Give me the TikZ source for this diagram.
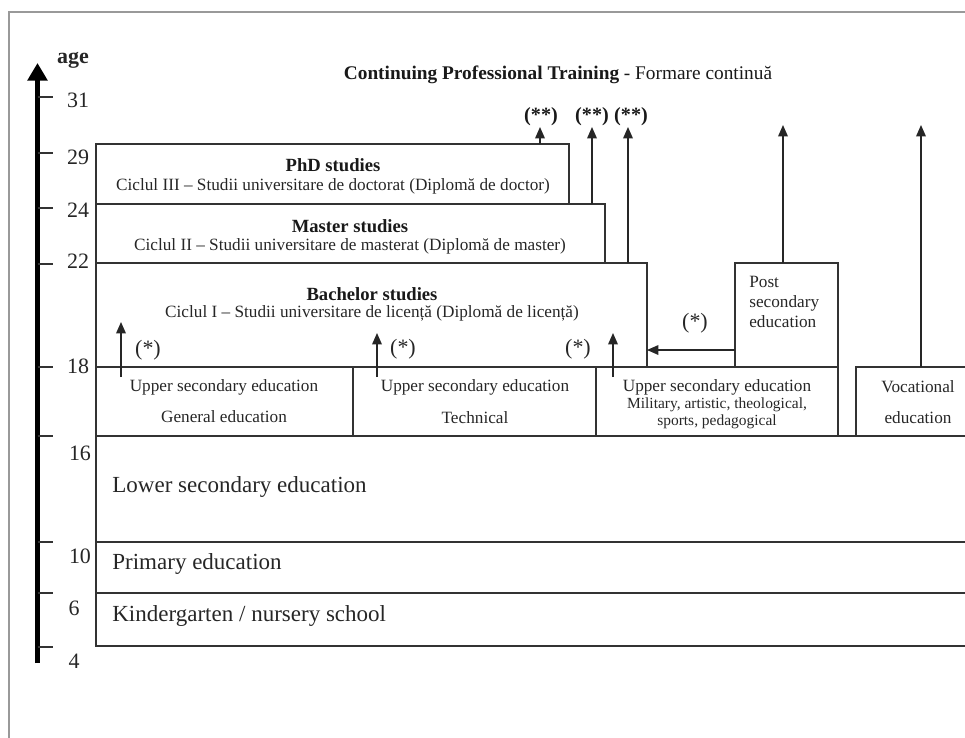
\documentclass[tikz,border=0pt]{standalone}
\usepackage{fontspec}
\setmainfont{Liberation Serif}
\usetikzlibrary{arrows.meta}
\newcommand\mkbox[5]{\node[box, minimum width={(#4-#2)*0.02cm}, minimum height={(#5-#3)*0.02cm}] (#1) at (#2,#3) {};}
\begin{document}
\begin{tikzpicture}[x=0.02cm,y=-0.02cm,
  box/.style={draw=black!80, line width=0.8pt, inner sep=0pt, outer sep=0pt, anchor=north west},
  txt/.style={inner sep=0pt, text=black!85, font=\fontsize{9.8}{11.4}\selectfont},
  smalltxt/.style={inner sep=0pt, text=black!85, font=\fontsize{8.8}{10}\selectfont},
  headtxt/.style={inner sep=0pt, text=black!90, font=\fontsize{10.6}{12}\selectfont\bfseries},
  bigtxt/.style={inner sep=0pt, text=black!85, font=\fontsize{13.1}{15}\selectfont, anchor=west},
  agetxt/.style={inner sep=0pt, text=black!85, font=\fontsize{12.5}{14}\selectfont},
  startxt/.style={inner sep=0pt, text=black!85, font=\fontsize{12.5}{14}\selectfont},
  dstartxt/.style={inner sep=0pt, text=black!90, font=\fontsize{11.5}{13}\selectfont\bfseries},
  arr/.style={line width=0.75pt, draw=black!85, -{Triangle[width=5.5pt,length=6.5pt]}},
  axis/.style={line width=3.2pt, draw=black, -{Triangle[width=11pt,length=10pt]}},
  tick/.style={line width=0.9pt, draw=black!80},
  frame/.style={line width=1.2pt, draw=black!40}]
\useasboundingbox (0,0) rectangle (965,738);
\clip (0,0) rectangle (965,738);
\draw[frame] (9,738) -- (9,12) -- (965,12);

% age axis
\coordinate (axb) at (37.5,663);
\coordinate (axt) at (37.5,63);
\draw[axis] (axb) -- (axt);
\foreach \yy in {97,153,208,264,367,436,542,593,647}{
  \draw[tick] (37.5,\yy) -- (53,\yy);
}
\node[agetxt, font=\fontsize{12.5}{14}\selectfont\bfseries] (age) at (73,60) {age};
\node[agetxt] (a31) at (78,100) {31};
\node[agetxt] (a29) at (78,157) {29};
\node[agetxt] (a24) at (78,210) {24};
\node[agetxt] (a22) at (78,261) {22};
\node[agetxt] (a18) at (78,366) {18};
\node[agetxt] (a16) at (80,453) {16};
\node[agetxt] (a10) at (80,556) {10};
\node[agetxt] (a6) at (74,608) {6};
\node[agetxt] (a4) at (74,661) {4};

% title
\node[inner sep=0pt, text=black!90, font=\fontsize{11}{13}\selectfont] (title) at (558,75)
  {\textbf{Continuing Professional Training} - Formare continuă};

% boxes
\mkbox{phd}{96}{144}{569}{204}
\mkbox{mas}{96}{204}{605}{263}
\mkbox{bac}{96}{263}{647}{367}
\mkbox{post}{735}{263}{838}{367}
\mkbox{gen}{96}{367}{353}{436}
\mkbox{tec}{353}{367}{596}{436}
\mkbox{mil}{596}{367}{838}{436}
\mkbox{voc}{856}{367}{990}{436}
\mkbox{low}{96}{436}{990}{542}
\mkbox{pri}{96}{542}{990}{593}
\mkbox{kin}{96}{593}{990}{646}

% texts
\node[headtxt] (phdT) at (333,165) {PhD studies};
\node[txt] (phdS) at (333,186) {Ciclul III – Studii universitare de doctorat (Diplomă de doctor)};
\node[headtxt] (masT) at (350,226) {Master studies};
\node[txt] (masS) at (350,246) {Ciclul II – Studii universitare de masterat (Diplomă de master)};
\node[headtxt] (bacT) at (372,294) {Bachelor studies};
\node[txt] (bacS) at (372,313) {Ciclul I – Studii universitare de licență (Diplomă de licență)};
\node[txt, align=left, anchor=west] (postT) at (749,302) {Post\\secondary\\education};
\node[txt] (genA) at (224,387) {Upper secondary education};
\node[txt] (genB) at (224,417) {General education};
\node[txt] (tecA) at (475,387) {Upper secondary education};
\node[txt] (tecB) at (475,418) {Technical};
\node[txt] (milA) at (717,387) {Upper secondary education};
\node[smalltxt] (milB) at (717,405) {Military, artistic, theological,};
\node[smalltxt] (milC) at (717,422) {sports, pedagogical};
\node[txt] (vocA) at (918,387) {Vocational};
\node[txt] (vocB) at (918,418) {education};
\node[bigtxt] (lowT) at (112,487) {Lower secondary education};
\node[bigtxt] (priT) at (112,564) {Primary education};
\node[bigtxt] (kinT) at (112,616) {Kindergarten / nursery school};

% continuing arrows
\coordinate (t1) at (540,127);
\coordinate (t2) at (592,127);
\coordinate (t3) at (628,127);
\coordinate (t4) at (783,125);
\coordinate (t5) at (921,125);
\draw[arr] (t1 |- phd.north) -- (t1);
\draw[arr] (t2 |- mas.north) -- (t2);
\draw[arr] (t3 |- bac.north) -- (t3);
\draw[arr] (t4 |- post.north) -- (t4);
\draw[arr] (t5 |- voc.north) -- (t5);
\node[dstartxt] (s1) at (541,117) {(**)};
\node[dstartxt] (s2) at (592,117) {(**)};
\node[dstartxt] (s3) at (631,117) {(**)};

% (*) arrows
\coordinate (b1s) at (121,377); \coordinate (b1e) at (121,322);
\coordinate (b2s) at (377,377); \coordinate (b2e) at (377,333);
\coordinate (b3s) at (613,377); \coordinate (b3e) at (613,333);
\draw[arr] (b1s) -- (b1e);
\draw[arr] (b2s) -- (b2e);
\draw[arr] (b3s) -- (b3e);
\coordinate (h) at (0,350);
\draw[arr] (post.west |- h) -- (bac.east |- h);
\node[startxt] (p1) at (148,350) {(*)};
\node[startxt] (p2) at (403,349) {(*)};
\node[startxt] (p3) at (578,349) {(*)};
\node[startxt] (p4) at (695,323) {(*)};
\end{tikzpicture}
\end{document}
